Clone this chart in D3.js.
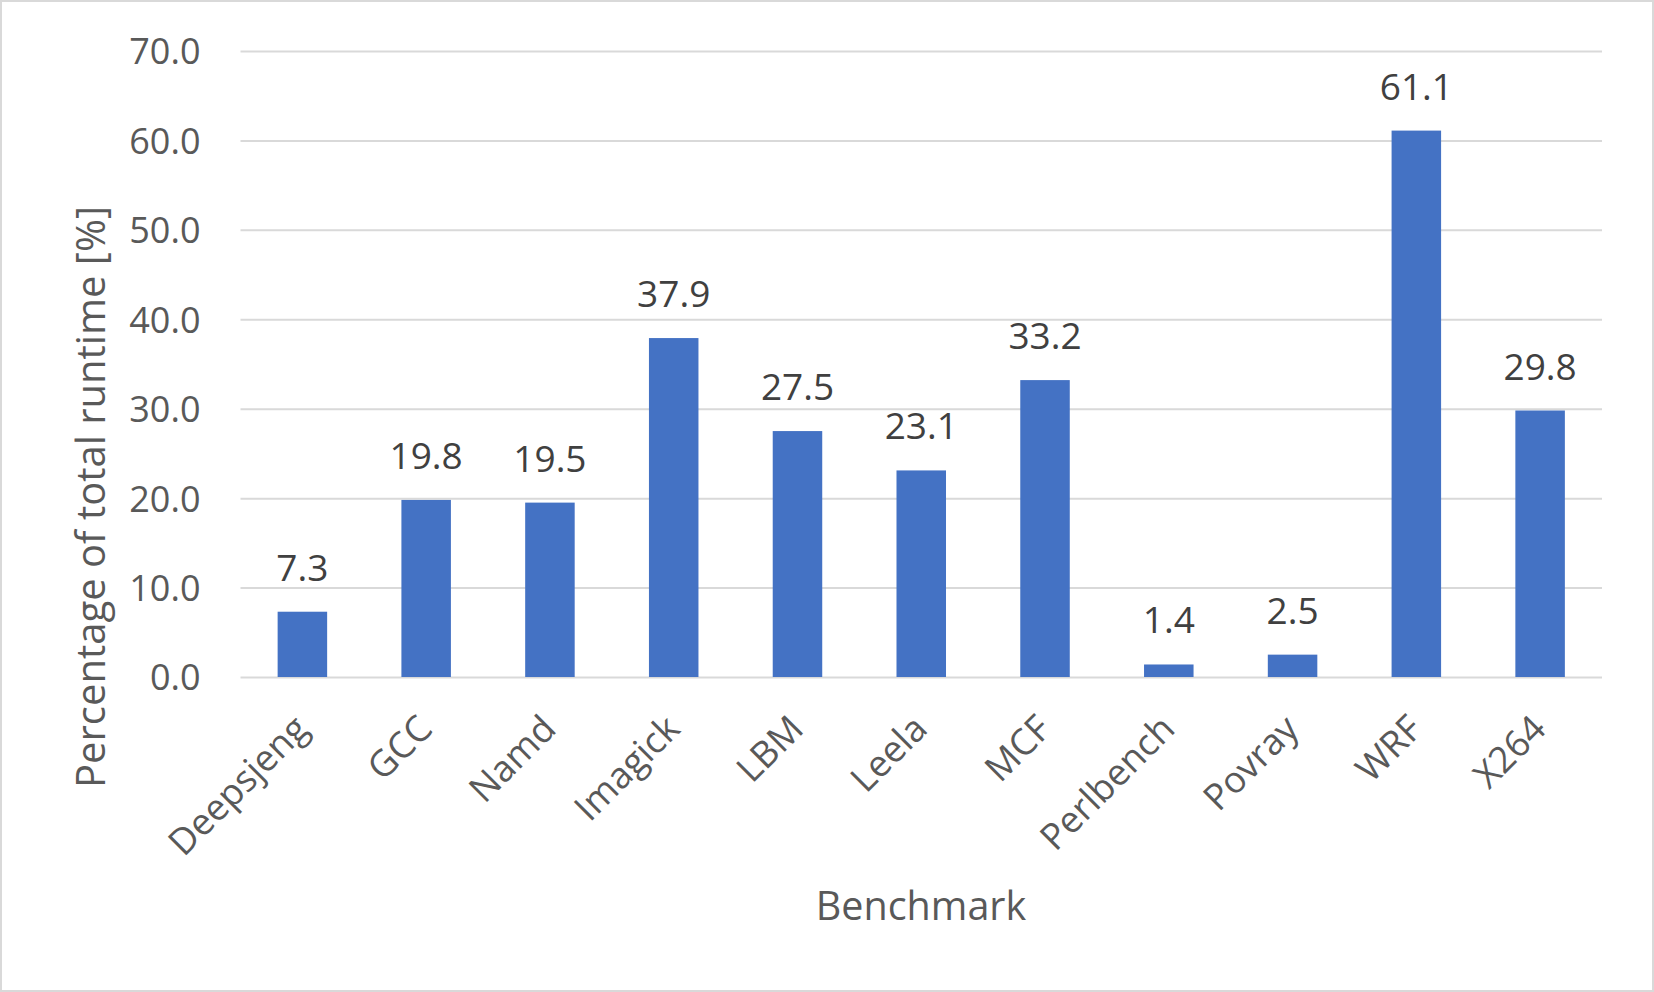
<!DOCTYPE html>
<html>
<head>
<meta charset="utf-8">
<script src="https://cdn.jsdelivr.net/npm/d3@7"></script>
<style>
  html, body { margin: 0; padding: 0; background: #fff; }
  svg { display: block; }
  text { font-family: "Open Sans", "Noto Sans", sans-serif; }
</style>
</head>
<body>
<svg id="chart" width="1654" height="992"></svg>
<script>
const categories = ["Deepsjeng", "GCC", "Namd", "Imagick", "LBM", "Leela", "MCF", "Perlbench", "Povray", "WRF", "X264"];
const values = [7.3, 19.8, 19.5, 37.9, 27.5, 23.1, 33.2, 1.4, 2.5, 61.1, 29.8];
const yTicks = [0, 10, 20, 30, 40, 50, 60, 70];
const xTitle = "Benchmark";
const yTitle = "Percentage of total runtime [%]";

const W = 1654, H = 992;
const plot = { left: 240.5, right: 1602, top: 51, bottom: 677 };
const svg = d3.select("#chart");

svg.append("rect").attr("x", 1).attr("y", 1).attr("width", W - 2).attr("height", H - 2)
  .attr("fill", "#fff").attr("stroke", "#d9d9d9").attr("stroke-width", 2);

const x = d3.scaleBand().domain(categories).range([plot.left, plot.right])
  .paddingInner(0.6).paddingOuter(0.3);
const y = d3.scaleLinear().domain([0, 70]).range([plot.bottom, plot.top]);

// gridlines + y labels via axis
const yAxis = d3.axisLeft(y).tickValues(yTicks).tickFormat(d3.format(".1f"))
  .tickSize(-(plot.right - plot.left)).tickPadding(40);
const gy = svg.append("g").attr("transform", `translate(${plot.left},0)`).call(yAxis);
gy.select(".domain").remove();
gy.selectAll(".tick line").attr("stroke", "#d9d9d9").attr("stroke-width", 2);
gy.selectAll(".tick text").attr("fill", "#595959").attr("font-size", 36)
  .attr("dy", "0.36em");

// bars
svg.append("g").selectAll("rect").data(values).join("rect")
  .attr("x", (d, i) => x(categories[i]))
  .attr("width", x.bandwidth())
  .attr("y", d => y(d))
  .attr("height", d => y(0) - y(d))
  .attr("fill", "#4472C4");

// data labels
svg.append("g").selectAll("text").data(values).join("text")
  .attr("x", (d, i) => x(categories[i]) + x.bandwidth() / 2)
  .attr("y", d => y(d) - 31)
  .attr("text-anchor", "middle")
  .attr("fill", "#404040").attr("font-size", 37)
  .text(d => d.toFixed(1));

// x axis labels
const xAxis = d3.axisBottom(x).tickSize(0).tickPadding(0);
const gx = svg.append("g").attr("transform", `translate(0,${plot.bottom})`).call(xAxis);
gx.select(".domain").remove();
gx.selectAll(".tick text")
  .attr("font-size", 36.5).attr("fill", "#595959")
  .attr("text-anchor", "end")
  .attr("dy", 0)
  .attr("transform", "translate(8,54) rotate(-45)");

// axis titles
svg.append("text").attr("x", 921).attr("y", 920).attr("text-anchor", "middle")
  .attr("fill", "#595959").attr("font-size", 39.5).text(xTitle);
svg.append("text").attr("transform", "translate(105,497) rotate(-90)")
  .attr("text-anchor", "middle").attr("fill", "#595959").attr("font-size", 40).text(yTitle);
</script>
</body>
</html>
